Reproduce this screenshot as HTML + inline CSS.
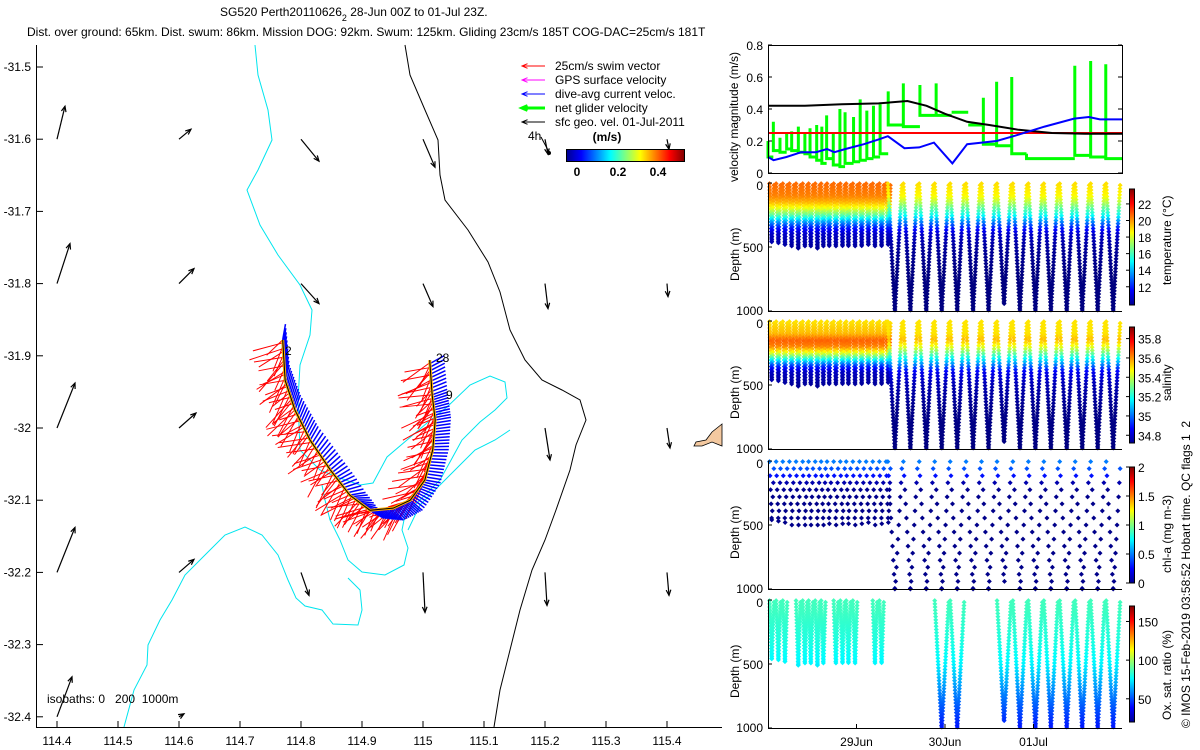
<!DOCTYPE html>
<html><head><meta charset="utf-8">
<style>
body{margin:0;background:#fff;}
svg{display:block;font-family:"Liberation Sans",sans-serif;}
text{font-size:12px;fill:#000;white-space:pre;}
</style></head>
<body>
<svg id="s" width="1200" height="750" viewBox="0 0 1200 750">
<defs>
<linearGradient id="jetH" x1="0" x2="1" y1="0" y2="0">
<stop offset="0" stop-color="#00008f"/><stop offset="0.125" stop-color="#0000ff"/><stop offset="0.375" stop-color="#00ffff"/><stop offset="0.625" stop-color="#ffff00"/><stop offset="0.875" stop-color="#ff0000"/><stop offset="1" stop-color="#800000"/>
</linearGradient>
<linearGradient id="jetV" x1="0" x2="0" y1="1" y2="0">
<stop offset="0" stop-color="#00008f"/><stop offset="0.125" stop-color="#0000ff"/><stop offset="0.375" stop-color="#00ffff"/><stop offset="0.625" stop-color="#ffff00"/><stop offset="0.875" stop-color="#ff0000"/><stop offset="1" stop-color="#800000"/>
</linearGradient>
</defs>
<text x="220" y="16">SG520 Perth20110626<tspan dy="5" font-size="9">2</tspan><tspan dy="-5"> 28-Jun 00Z to 01-Jul 23Z.</tspan></text>
<text x="27" y="36">Dist. over ground: 65km. Dist. swum: 86km. Mission DOG: 92km. Swum: 125km. Gliding 23cm/s 185T COG-DAC=25cm/s 181T</text>
<g id="map"></g>
<g id="right"></g>
</svg>
<script>
const NS="http://www.w3.org/2000/svg";
const svg=document.getElementById('s');
function mk(tag,attrs,parent){const e=document.createElementNS(NS,tag);for(const k in attrs)e.setAttribute(k,attrs[k]);(parent||svg).appendChild(e);return e;}
function jet(t){t=Math.max(0,Math.min(1,t));const c=v=>Math.round(255*Math.max(0,Math.min(1,v)));return `rgb(${c(1.5-Math.abs(4*t-3))},${c(1.5-Math.abs(4*t-2))},${c(1.5-Math.abs(4*t-1))})`;}

// ===== MAP DATA =====
const mapLonTicks=[114.4,114.5,114.6,114.7,114.8,114.9,115,115.1,115.2,115.3,115.4];
const mapLatTicks=[-31.5,-31.6,-31.7,-31.8,-31.9,-32,-32.1,-32.2,-32.3,-32.4];
const trackLon=[114.770,114.774,114.790,114.815,114.848,114.880,114.913,114.951,114.979,115.003,115.016,115.020,115.015,115.011];
const trackLat=[-31.878,-31.934,-31.975,-32.017,-32.058,-32.093,-32.114,-32.111,-32.100,-32.072,-32.030,-31.989,-31.954,-31.906];
const blueAngDeg=[-80,-75,-70,-60,-40,-10,30,50,40,10,0,-10,-20,-30];
const geoLon=[114.4,114.6,114.8,115.0,115.2,115.4,114.4,114.6,114.8,115.0,115.2,115.4,114.4,114.6,115.2,115.4,114.4,114.6,114.8,115.0,115.2,115.4,114.4,114.6];
const geoLat=[-31.6,-31.6,-31.6,-31.6,-31.6,-31.6,-31.8,-31.8,-31.8,-31.8,-31.8,-31.8,-32.0,-32.0,-32.0,-32.0,-32.2,-32.2,-32.2,-32.2,-32.2,-32.2,-32.4,-32.4];
const geoU=[0.08,0.12,0.18,0.12,0.03,0.02,0.13,0.15,0.18,0.10,0.03,0.01,0.18,0.17,0.05,0.03,0.18,0.15,0.08,0.02,0.02,0.02,0.15,0.05];
const geoV=[0.33,0.10,-0.22,-0.28,-0.15,-0.10,0.40,0.15,-0.20,-0.23,-0.25,-0.13,0.45,0.15,-0.32,-0.20,0.45,0.13,-0.23,-0.40,-0.33,-0.23,0.40,0.03];

const lx=lon=>57+(lon-114.4)*610;
const ly=lat=>67+(-31.5-lat)*722;
const M=document.getElementById('map');

const cyanLines=[
 [[255,45],[258,75],[268,110],[272,140],[258,170],[247,190],[260,225],[278,255],[300,285],[312,310],[310,335],[300,365],[298,400],[300,450],[320,470],[337,477],[360,485],[373,483],[387,457],[407,440],[427,423],[447,407],[470,385],[490,376],[505,382],[507,398],[495,410],[480,422],[462,440],[450,462],[440,480],[420,500],[405,515],[402,530],[408,548],[404,565],[385,575],[362,572],[348,560],[340,540],[330,520],[325,500],[322,485]],
 [[124,727],[134,690],[147,665],[148,645],[160,620],[172,600],[185,575],[205,555],[225,535],[245,527],[262,535],[278,555],[288,580],[296,598],[305,606],[322,610],[333,624],[358,625],[362,610],[360,590],[348,578]],
 [[408,530],[420,505],[440,485],[460,465],[475,450],[495,440],[510,430]]
];
const blackLines=[
 [[405,45],[410,75],[425,110],[438,140],[440,175],[445,200],[468,230],[488,262],[500,292],[510,330],[525,360],[542,380],[562,390],[580,400],[586,420],[576,445],[570,470],[556,510],[545,540],[532,570],[520,610],[510,650],[500,690],[494,727]]
];
cyanLines.forEach(l=>{const p=mk('polyline',{points:l.map(q=>q.join(',')).join(' '),fill:'none',stroke:'#00e5ee','stroke-width':1},M);});
blackLines.forEach(l=>{const p=mk('polyline',{points:l.map(q=>q.join(',')).join(' '),fill:'none',stroke:'#000','stroke-width':1},M);});
const land=mk('path',{d:'M722,424 L712,432 L706,440 L696,442 L694,446 L702,446 L712,442 L722,446 Z',fill:'#f4c9a0',stroke:'#000','stroke-width':0.8},M);


function arrow(x1,y1,x2,y2,col,w,parent,name){
 const g=mk('g',{},parent);
 
 mk('line',{x1,y1,x2,y2,stroke:col,'stroke-width':w},g);
 const a=Math.atan2(y2-y1,x2-x1),h=6;
 mk('polyline',{points:`${x2-h*Math.cos(a-0.4)},${y2-h*Math.sin(a-0.4)} ${x2},${y2} ${x2-h*Math.cos(a+0.4)},${y2-h*Math.sin(a+0.4)}`,fill:'none',stroke:col,'stroke-width':w},g);
}
for(let i=0;i<geoLon.length;i++){const x=lx(geoLon[i]),y=ly(geoLat[i]);arrow(x,y,x+geoU[i]*100,y-geoV[i]*100,'#000',1.2,M,'sfc-geo-arrow');}

const tx=trackLon.map(lx),ty=trackLat.map(ly);
for(let i=0;i<tx.length-1;i++){
 for(let k=0;k<14;k++){
  const f=k/14,x=tx[i]+(tx[i+1]-tx[i])*f,y=ty[i]+(ty[i+1]-ty[i])*f;
  const ra=Math.PI*(0.85+0.2*Math.sin(i*1.7+k*2.3));
  const rl=18+16*((i*7+k*3)%5)/4;
  const r=mk('line',{x1:x,y1:y,x2:x+rl*Math.cos(ra),y2:y+rl*Math.sin(ra)*0.9+8,stroke:'#ff0000','stroke-width':1},M);
  
 }
}
for(let i=0;i<tx.length-1;i++){
 for(let k=0;k<10;k++){
  const f=k/10,x=tx[i]+(tx[i+1]-tx[i])*f,y=ty[i]+(ty[i+1]-ty[i])*f;
  const a=(blueAngDeg[i]+(blueAngDeg[i+1]-blueAngDeg[i])*f)*Math.PI/180;
  const b=mk('line',{x1:x,y1:y,x2:x+16*Math.cos(a),y2:y+16*Math.sin(a),stroke:'#0000ff','stroke-width':1.5},M);
  
 }
}
const tr=mk('polyline',{points:tx.map((x,i)=>x+','+ty[i]).join(' '),fill:'none',stroke:'#ffb000','stroke-width':3},M);

const tr2=mk('polyline',{points:tx.map((x,i)=>x+','+ty[i]).join(' '),fill:'none',stroke:'#000','stroke-width':1},M);

[['2',285,355],['28',436,362],['9',446,399]].forEach(t=>{const e=mk('text',{x:t[1],y:t[2]},M);e.textContent=t[0];});

const ax=mk('g',{},M);
mk('line',{x1:36.5,y1:45,x2:36.5,y2:727.5,stroke:'#000'},ax);
mk('line',{x1:36,y1:727.5,x2:722,y2:727.5,stroke:'#000'},ax);
mapLonTicks.forEach(v=>{const x=lx(v);mk('line',{x1:x,y1:727,x2:x,y2:721,stroke:'#000'},ax);const t=mk('text',{x:x,y:745,'text-anchor':'middle'},ax);t.textContent=String(v);});
mapLatTicks.forEach(v=>{const y=ly(v);mk('line',{x1:37,y1:y,x2:43,y2:y,stroke:'#000'},ax);const t=mk('text',{x:31,y:y+4,'text-anchor':'end'},ax);t.textContent=String(v);});
const iso=mk('text',{x:47,y:703},M);iso.textContent='isobaths: 0   200  1000m';

const legItems=[['25cm/s swim vector','#ff0000',1],['GPS surface velocity','#ff00ff',1],['dive-avg current veloc.','#0000ff',1],['net glider velocity','#00ff00',3],['sfc geo. vel. 01-Jul-2011','#000',1]];
legItems.forEach((it,i)=>{const y=66+i*14;const g=mk('g',{},M);
 arrow(545,y,522,y,it[1],it[2],g,'legend-arrow');const t=mk('text',{x:555,y:y+4},g);t.textContent=it[0];});
const h4=mk('text',{x:528,y:140},M);h4.textContent='4h';
mk('line',{x1:541,y1:137,x2:549,y2:152,stroke:'#000'},M);mk('circle',{cx:549,cy:153,r:2,fill:'#000'},M);
const ms=mk('text',{x:607,y:141,'font-weight':'bold','text-anchor':'middle'},M);ms.textContent='(m/s)';
const mcb=mk('rect',{x:566.5,y:149.5,width:118,height:12,fill:'url(#jetH)',stroke:'#000'},M);
[['0',577],['0.2',618],['0.4',658]].forEach(t=>{const e=mk('text',{x:t[1],y:176,'text-anchor':'middle','font-weight':'bold'},M);e.textContent=t[0];});

// ===== RIGHT PANELS DATA =====
const velTicks=[0,0.2,0.4,0.6,0.8];
const dateLabels=['29Jun','30Jun','01Jul'];
const dateHours=[24,48,72];
const blackT=[0,10,20,30,37.8,43,48,54,60,68,77,86,96];
const blackV=[0.42,0.42,0.43,0.435,0.45,0.42,0.37,0.32,0.30,0.27,0.25,0.245,0.245];
const blueT=[0,1.5,5,9,13,16,18,21,26,30,32.5,37,41,45,50,54,62,68,75,83,87,90,96];
const blueV=[0.1,0.08,0.10,0.13,0.13,0.15,0.13,0.15,0.18,0.21,0.23,0.155,0.16,0.19,0.06,0.18,0.20,0.24,0.29,0.34,0.35,0.335,0.335];
const redV=0.25;
const greenT=[0,1.45,3.25,5.06,6.42,8.23,10.0,11.4,13.2,14.6,15.9,17.7,19.5,20.9,23.2,25.0,26.8,28.6,30.4,32.6,36.7,41.2,45.6,49.8,54.3,58.4,62.0,66.1,70.1,83.2,87.5,91.6];
const greenLow=[0.1,0.14,0.13,0.15,0.14,0.13,0.12,0.10,0.08,0.06,0.09,0.05,0.04,0.06,0.07,0.08,0.09,0.10,0.12,0.30,0.29,0.36,0.36,0.38,0.30,0.18,0.17,0.12,0.09,0.11,0.10,0.09];
const greenHigh=[0.2,0.32,0.22,0.25,0.26,0.29,0.25,0.28,0.30,0.29,0.36,0.25,0.40,0.38,0.35,0.46,0.39,0.42,0.43,0.51,0.56,0.55,0.56,0.38,0.30,0.47,0.57,0.60,0.12,0.67,0.70,0.68];

const shallowT=[1.0,2.8,4.6,6.4,8.2,10.0,11.6,13.4,15.0,16.6,18.4,20.2,21.8,23.6,25.4,27.2,29.0,30.8,32.6];
const shallowD=[460,470,480,500,510,500,500,510,500,490,500,490,490,500,490,480,500,490,480];
const deepT=[34.4,38.6,42.9,47.1,51.3,55.6,59.8,64.0,68.3,72.5,76.7,81.0,85.2,89.4,93.6];
const deepD=[1000,1000,1000,1000,1000,1000,1000,950,1000,1000,1000,1000,1000,1000,1000];
const oxyShallowOn=[1,1,1,0,1,1,1,1,1,0,1,1,1,1,0,0,1,1,0];
const oxyDeepOn=[0,0,0,1,1,0,0,1,1,1,1,1,1,1,1];
const profDepth=[0,100,150,200,250,300,350,400,500,700,1000];
const tempShallow=[20.6,20.3,19.6,18.3,16.5,14,12,10.8,10.2,9.8,9.5];
const tempDeep=[19.0,18.6,17.6,16.3,15.3,13.5,12,10.8,10.2,9.8,9.5];
const salShallow=[35.5,35.55,35.66,35.62,35.45,35.2,34.95,34.8,34.75,34.72,34.72];
const salDeep=[35.5,35.5,35.55,35.45,35.3,35.15,35.0,34.85,34.78,34.73,34.72];
const chlProf=[0.5,0.35,0.12,0.04,0.03,0.02,0.02,0.02,0.02,0.02,0.02];
const oxyProf=[86,85,84,83,82,81,80,78,75,60,42];

const x0=768,x1=1122,hx=h=>x0+h*(x1-x0)/96;
const R=document.getElementById('right');
function interp(xs,ys,x){if(x<=xs[0])return ys[0];for(let i=1;i<xs.length;i++)if(x<=xs[i])return ys[i-1]+(ys[i]-ys[i-1])*(x-xs[i-1])/(xs[i]-xs[i-1]);return ys[ys.length-1];}
function txt(s,x,y,anchor,parent,name,rot){const t=mk('text',{x,y,'text-anchor':anchor||'start'},parent);if(rot)t.setAttribute('transform',`rotate(-90 ${x} ${y})`);t.textContent=s;return t;}

const vp=mk('g',{},R);
const vy=v=>173-v*160;
const gpts=[];for(let i=0;i<greenT.length;i++){const tNext=i+1<greenT.length?greenT[i+1]:96;gpts.push(`M${hx(greenT[i])},${vy(greenHigh[i])}V${vy(greenLow[i])}H${hx(tNext)}`);}
const gp=mk('path',{d:gpts.join(''),fill:'none',stroke:'#00ff00','stroke-width':3},vp);
const rl=mk('line',{x1:x0,y1:vy(redV),x2:x1,y2:vy(redV),stroke:'#ff0000','stroke-width':2},vp);
const bk=mk('polyline',{points:blackT.map((t,i)=>hx(t)+','+vy(blackV[i])).join(' '),fill:'none',stroke:'#000','stroke-width':2},vp);
const bl=mk('polyline',{points:blueT.map((t,i)=>hx(t)+','+vy(blueV[i])).join(' '),fill:'none',stroke:'#0000ff','stroke-width':2},vp);
mk('rect',{x:x0+0.5,y:45.5,width:x1-x0,height:128,fill:'none',stroke:'#000'},vp);
velTicks.forEach(v=>{mk('line',{x1:x0,y1:vy(v),x2:x0+4,y2:vy(v),stroke:'#000'},vp);mk('line',{x1:x1-4,y1:vy(v),x2:x1,y2:vy(v),stroke:'#000'},vp);txt(String(v),763,vy(v)+5,'end',vp,'velocity-tick-label');});
txt('velocity magnitude (m/s)',738,182,'start',vp,'velocity-axis-title',true);

const panels=[
 {top:183,name:'temperature',label:'temperature (°C)',min:9.8,max:23.8,ticks:[12,14,16,18,20,22],sh:tempShallow,dp:tempDeep,sparse:false},
 {top:321,name:'salinity',label:'salinity',min:34.72,max:35.92,ticks:[34.8,35,35.2,35.4,35.6,35.8],sh:salShallow,dp:salDeep,sparse:false},
 {top:461,name:'chlorophyll',label:'chl-a (mg m-3)',min:0,max:2,ticks:[0,0.5,1,1.5,2],sh:chlProf,dp:chlProf,sparse:true},
 {top:600,name:'oxygen',label:'Ox. sat. ratio (%)',min:20,max:170,ticks:[50,100,150],sh:oxyProf,dp:oxyProf,sparse:false,oxy:true}
];
panels.forEach(P=>{
 const g=mk('g',{},R);
 const dy=d=>P.top+d/1000*128;
 const step=P.sparse?110:25;
 function dive(tc,D,halfW,prof){
  const pts=[];
  for(let d=5;d<=D;d+=step){pts.push([tc-halfW*(1-d/D),d]);pts.push([tc+halfW*(1-d/D),Math.min(D,d+step/2)]);}
  pts.forEach(p=>{const v=interp(profDepth,prof,p[1]);const c=jet((v-P.min)/(P.max-P.min));
   const x=hx(p[0]),y=dy(p[1]);
   const m=mk('path',{d:`M${x-2.5},${y}L${x},${y-2.5}L${x+2.5},${y}L${x},${y+2.5}Z`,fill:c},g);
   });
 }
 shallowT.forEach((t,i)=>{if(P.oxy&&!oxyShallowOn[i])return;dive(t,shallowD[i],0.6,P.sh);});
 deepT.forEach((t,i)=>{if(P.oxy&&!oxyDeepOn[i])return;dive(t,deepD[i],1.9,P.dp);});
 mk('line',{x1:x0+0.5,y1:P.top,x2:x0+0.5,y2:P.top+128.5,stroke:'#000'},g);
 mk('line',{x1:x0,y1:P.top+128.5,x2:x1,y2:P.top+128.5,stroke:'#000'},g);
 [0,500,1000].forEach(d=>{mk('line',{x1:x0,y1:dy(d),x2:x0+4,y2:dy(d),stroke:'#000'},g);txt(String(d),763,dy(d)+(d==0?7:d==1000?4:5),'end',g,'depth-tick-label');});
 txt('Depth (m)',739,P.top+98,'start',g,'depth-axis-title',true);
 const cy0=P.top+6,cy1=P.top+122;
 const cb=mk('rect',{x:1129.5,y:cy0,width:5,height:cy1-cy0,fill:'url(#jetV)',stroke:'#000'},g);
 P.ticks.forEach(v=>{const y=cy1-(v-P.min)/(P.max-P.min)*(cy1-cy0);mk('line',{x1:1126,y1:y,x2:1129,y2:y,stroke:'#000'},g);txt(String(v),1138,y+5,'start',g,'colorbar-tick-label');});
 txt(P.label,1171,P.top+(P.oxy?120:P.name=='chlorophyll'?112:P.name=='salinity'?80:102),'start',g,P.name+'-colorbar-title',true);
});
dateLabels.forEach((s,i)=>{const x=hx(dateHours[i]);mk('line',{x1:x,y1:728,x2:x,y2:724,stroke:'#000'},R);txt(s,x,746,'middle',R,'date-tick-label');});
txt('© IMOS 15-Feb-2019 03:58:52 Hobart time. QC flags 1  2',1190,728,'start',R,'copyright-note',true);
</script>
</body></html>
